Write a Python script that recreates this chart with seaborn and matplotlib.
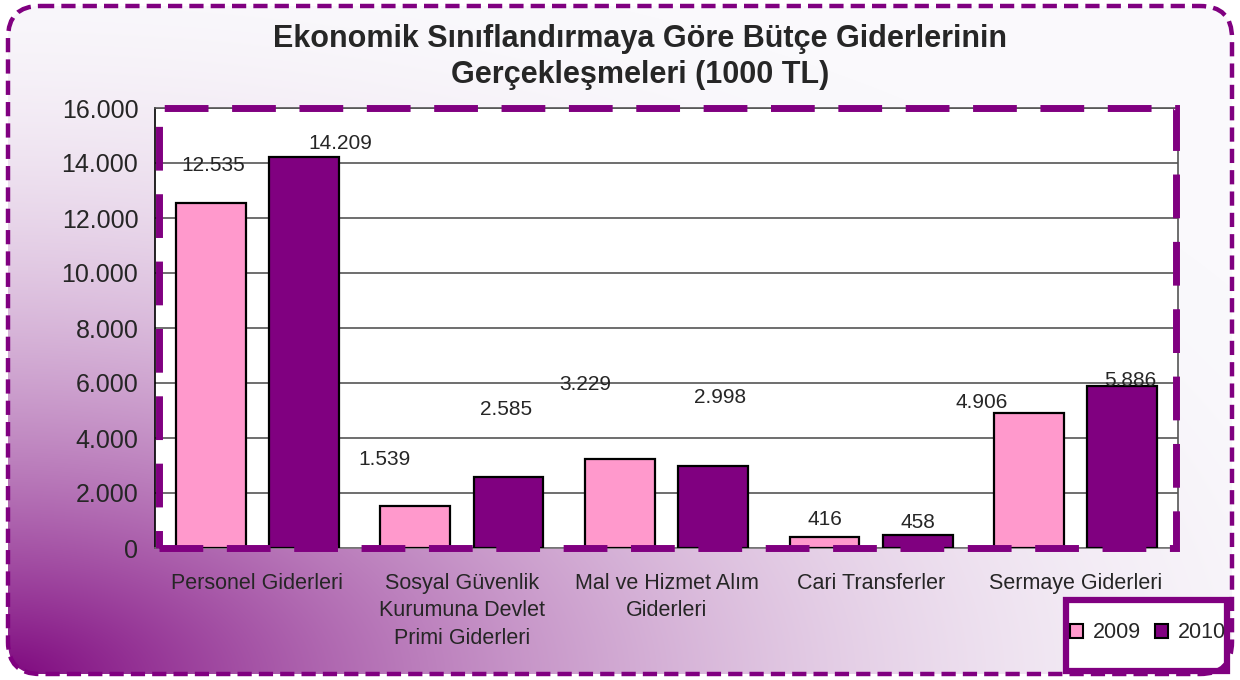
import numpy as np
import pandas as pd
import matplotlib
matplotlib.use("Agg")
import matplotlib.pyplot as plt
import seaborn as sns
from matplotlib.patches import FancyBboxPatch, Rectangle

# data
categories = ["Personel Giderleri",
              "Sosyal Güvenlik\nKurumuna Devlet\nPrimi Giderleri",
              "Mal ve Hizmet Alım\nGiderleri",
              "Cari Transferler",
              "Sermaye Giderleri"]
years = ["2009", "2010"]
values_2009 = [12535, 1539, 3229, 416, 4906]
values_2010 = [14209, 2585, 2998, 458, 5886]
y_ticks = [0, 2000, 4000, 6000, 8000, 10000, 12000, 14000, 16000]
title = "Ekonomik Sınıflandırmaya Göre Bütçe Giderlerinin\nGerçekleşmeleri (1000 TL)"

# label offsets in pixels (dx, dy) to mimic the original label placement
label_offsets = {
    "2009": [(2, 38), (-31, 46), (-35, 75), (0, 17), (-47, 11)],
    "2010": [(36, 14), (-2, 67), (7, 68), (0, 13), (8, 6)],
}

PINK = "#FF99CC"
PURPLE = "#800080"

df = pd.DataFrame({
    "Kategori": categories * 2,
    "Yıl": [years[0]] * 5 + [years[1]] * 5,
    "Değer": values_2009 + values_2010,
})

sns.set_style("white")
plt.rcParams["font.family"] = ["Liberation Sans", "DejaVu Sans"]

fig = plt.figure(figsize=(12.4, 6.8), dpi=100)

# gradient background (purple bottom-left fading to white)
bg = fig.add_axes([0, 0, 1, 1], zorder=-5)
W, H = 1240, 680
xx, yy = np.meshgrid(np.arange(W), np.arange(H))
u = np.sqrt((xx / 1450.0) ** 2 + ((H - yy) / 743.0) ** 2)
t = 1 - (1 - np.clip(u, 0, 1)) ** 2
start = np.array([125, 5, 125]) / 255.0
end = np.array([250, 249, 252]) / 255.0
img = start[None, None, :] * (1 - t[..., None]) + end[None, None, :] * t[..., None]
im = bg.imshow(img, extent=[0, W, H, 0], aspect="auto")
bg.set_xlim(0, W)
bg.set_ylim(H, 0)
bg.axis("off")
clip = FancyBboxPatch((8, 6), 1224, 668, boxstyle="round,pad=0,rounding_size=32",
                      transform=bg.transData, visible=False)
bg.add_patch(clip)
im.set_clip_path(clip)

# legend box (white with thick purple edge)
bg.add_patch(Rectangle((1066, 600), 161, 71, facecolor="white", edgecolor=PURPLE, lw=4.5))

frame = FancyBboxPatch((8, 6), 1224, 668, boxstyle="round,pad=0,rounding_size=32",
                       fill=False, edgecolor=PURPLE, lw=3.2,
                       linestyle=(0, (3.2, 1.6)), transform=bg.transData)
bg.add_patch(frame)

ax = fig.add_axes([155 / W, 1 - 548 / H, (1178 - 155) / W, (548 - 108) / H])
ax.set_facecolor("white")

sns.barplot(data=df, x="Kategori", y="Değer", hue="Yıl", order=categories,
            hue_order=years, palette={"2009": PINK, "2010": PURPLE}, saturation=1,
            edgecolor="black", linewidth=1.6, gap=0.25, width=0.91, ax=ax, zorder=3)

ax.set_ylim(0, 16000)
ax.set_xlim(-0.5, 4.5)
ax.set_yticks(y_ticks)
ax.set_yticklabels([f"{v:,}".replace(",", ".") for v in y_ticks], fontsize=18)
ax.yaxis.grid(True, color="#555555", lw=1.2, zorder=0)
ax.set_axisbelow(True)
ax.set_xlabel("")
ax.set_ylabel("")
ax.tick_params(axis="y", length=8, color="#555555", pad=4)
ax.tick_params(axis="x", which="major", length=0, pad=18, labelsize=15.5)
ax.set_xticks(np.arange(-0.5, 5, 1), minor=True)
ax.tick_params(axis="x", which="minor", length=7, color="#555555", direction="out")
for lab in ax.get_xticklabels():
    lab.set_linespacing(1.4)
for side in ["top", "right"]:
    ax.spines[side].set_color("#555555")
    ax.spines[side].set_linewidth(1.2)
ax.spines["left"].set_color("black")
ax.spines["left"].set_linewidth(1.2)
ax.spines["bottom"].set_color("#777777")
ax.spines["bottom"].set_linewidth(1.2)

# dashed purple plot-area border
ax.add_patch(Rectangle((0.004, 0.0), 0.994, 1.0, transform=ax.transAxes, fill=False,
                       edgecolor=PURPLE, lw=5, linestyle=(0, (6.3, 3.4)),
                       clip_on=False, zorder=10))

# value labels
for year, cont in zip(years, ax.containers):
    for bar, (dx, dy) in zip(cont, label_offsets[year]):
        h = bar.get_height()
        ax.annotate(f"{int(h):,}".replace(",", "."),
                    (bar.get_x() + bar.get_width() / 2, h),
                    xytext=(dx, dy), textcoords="offset pixels",
                    ha="center", va="center", fontsize=15, zorder=12)

ax.get_legend().remove()
handles = [Rectangle((0, 0), 1, 1, facecolor=c, edgecolor="black", lw=1.5)
           for c in (PINK, PURPLE)]
fig.legend(handles, years, loc="center", bbox_to_anchor=(1148 / W, 1 - 633 / H),
           ncol=2, fontsize=15.5, handlelength=0.6, handleheight=0.6,
           handletextpad=0.45, columnspacing=0.65, borderpad=0.2, frameon=False)

fig.text(640 / W, 1 - 57 / H, title, ha="center", va="center", fontsize=22,
         fontweight="bold", linespacing=1.3)

fig.savefig("out.png", dpi=100)
